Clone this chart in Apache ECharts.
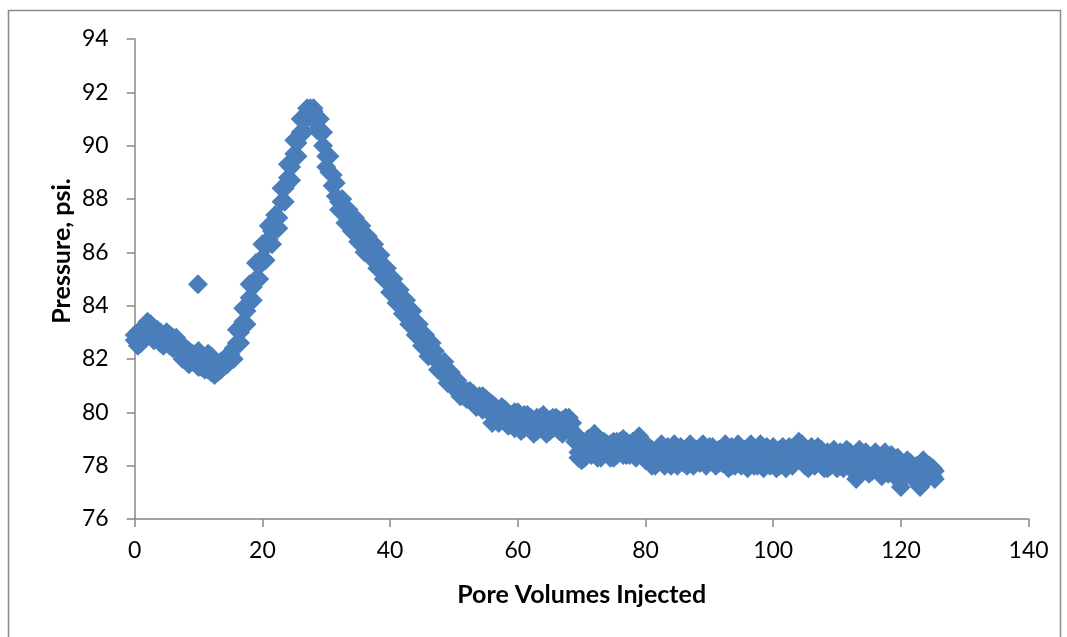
<!DOCTYPE html>
<html>
<head>
<meta charset="utf-8">
<script src="https://cdn.jsdelivr.net/npm/echarts@6/dist/echarts.min.js"></script>
<style>
html,body{margin:0;padding:0;background:#fff;}
#chart{width:1067px;height:637px;}
</style>
</head>
<body>
<div id="chart"></div>
<script>
// Pore volumes injected (x) and two pressure readings per step, psi (y)
const poreVolumes = [
0,0.5,1,1.5,2,2.5,3,3.5,4,4.5,5,5.5,6,6.5,7,7.5,8,8.5,9,9.5,9.9,10,10.5,11,11.5,12,12.5,13,13.5,14,14.5,15,15.5,16,16.5,17,17.5,18,18.5,19,19.5,
20,20.5,21,21.5,22,22.5,23,23.5,24,24.5,25,25.5,26,26.5,27,27.5,28,28.5,29,29.5,30,30.5,31,31.5,32,32.5,33,33.5,34,34.5,35,35.5,36,36.5,37,37.5,38,38.5,39,39.5,
40,40.5,41,41.5,42,42.5,43,43.5,44,44.5,45,45.5,46,46.5,47,47.5,48,48.5,49,49.5,50,50.5,51,51.5,52,52.5,53,53.5,54,54.5,55,55.5,56,56.5,57,57.5,58,58.5,59,59.5,
60,60.5,61,61.5,62,62.5,63,63.5,64,64.5,65,65.5,66,66.5,67,67.5,68,68.5,69,69.5,70,70.5,71,71.5,72,72.5,73,73.5,74,74.5,75,75.5,76,76.5,77,77.5,78,78.5,79,79.5,
80,80.5,81,81.5,82,82.5,83,83.5,84,84.5,85,85.5,86,86.5,87,87.5,88,88.5,89,89.5,90,90.5,91,91.5,92,92.5,93,93.5,94,94.5,95,95.5,96,96.5,97,97.5,98,98.5,99,99.5,
100,100.5,101,101.5,102,102.5,103,103.5,104,104.5,105,105.5,106,106.5,107,107.5,108,108.5,109,109.5,110,110.5,111,111.5,112,112.5,113,113.5,114,114.5,115,115.5,116,116.5,117,117.5,118,118.5,119,119.5,
120,120.5,121,121.5,122,122.5,123,123.5,124,124.5,125,125.3
];
const pressureA = [
82.7,83.0,82.6,83.1,83.4,83.0,82.9,83.1,82.6,82.9,83.0,82.5,82.8,82.6,82.3,82.0,82.4,81.8,82.2,81.9,84.8,82.3,81.7,82.0,81.6,82.1,81.4,81.7,81.6,81.9,81.8,82.2,82.4,82.6,83.0,83.4,83.8,84.3,84.7,85.0,85.5,
85.8,86.2,86.5,86.8,86.9,87.3,87.9,88.4,88.8,89.2,89.7,90.1,90.5,90.9,91.2,91.4,91.3,91.0,90.5,90.0,89.6,89.0,88.5,88.1,87.9,87.6,87.4,87.2,87.1,86.9,86.8,86.6,86.4,86.3,86.1,85.9,85.8,85.6,85.4,85.1,
84.9,84.7,84.5,84.3,84.1,83.9,83.7,83.4,83.2,83.0,82.8,82.6,82.5,82.3,82.0,81.9,81.8,81.6,81.4,81.3,81.2,81.0,80.9,80.8,80.8,80.6,80.7,80.5,80.4,80.6,80.2,80.4,79.6,80.2,80.0,79.7,80.1,79.5,79.9,80.0,
79.6,79.8,79.4,79.9,79.5,79.7,79.3,79.8,79.5,79.6,79.3,79.8,79.5,79.3,79.7,79.4,79.8,79.3,78.9,78.5,78.2,78.6,79.0,78.4,79.2,78.7,78.3,78.9,78.5,78.8,78.3,78.9,78.6,79.0,78.4,78.8,78.5,78.7,79.1,78.4,
78.2,78.7,78.0,78.5,78.6,78.2,78.5,78.3,78.6,78.2,78.5,78.4,78.1,78.6,78.3,78.5,78.2,78.6,78.3,78.4,78.7,78.2,78.5,78.1,78.6,78.3,78.5,78.0,78.4,78.2,78.6,78.1,78.4,78.3,78.6,78.0,78.3,78.5,78.1,78.4,
78.2,78.5,78.0,78.3,78.5,78.1,78.4,78.6,78.9,78.3,78.0,78.4,78.2,78.5,78.7,78.1,78.3,77.9,78.4,78.1,78.3,78.0,78.4,78.2,78.0,78.3,77.5,77.8,78.4,78.0,77.7,78.2,77.9,78.3,77.6,78.0,78.2,77.8,78.1,77.5,
77.2,78.0,78.2,77.7,77.9,77.4,77.2,77.8,78.0,77.6,77.9,77.5
];
const pressureB = [
82.9,82.5,83.1,82.8,83.0,83.3,82.7,82.8,83.0,82.5,82.6,82.9,82.4,82.8,82.6,82.4,82.1,82.3,81.9,82.2,81.8,81.7,82.1,81.6,82.2,81.5,81.8,81.5,81.9,82.0,82.1,82.0,82.0,83.1,82.6,83.9,83.3,84.8,84.2,85.6,85.0,
86.3,85.7,87.0,86.3,87.4,86.9,88.4,87.9,89.3,88.7,90.2,89.6,91.0,90.5,91.4,91.1,91.4,90.6,91.0,90.5,89.2,89.6,88.9,88.6,87.6,88.0,87.1,87.6,86.8,87.3,86.4,87.0,86.0,86.6,85.8,86.3,85.4,85.9,85.0,85.4,
84.5,85.0,84.1,84.6,83.7,84.2,83.3,83.8,82.9,83.3,82.5,82.9,82.1,82.6,82.3,81.6,81.5,81.9,81.1,81.5,80.9,81.2,80.6,80.6,80.5,80.8,80.4,80.2,80.6,80.1,80.5,80.0,80.3,79.8,79.6,80.2,79.7,79.9,79.6,79.4,
80.0,79.3,79.9,79.5,79.8,79.2,79.8,79.4,79.9,79.2,79.7,79.4,79.8,79.7,79.2,79.8,79.3,79.6,79.2,78.3,78.6,78.3,78.5,78.9,78.5,78.3,78.9,78.5,78.8,78.3,78.9,78.4,78.9,78.4,78.9,78.4,78.9,78.3,78.6,78.9,
78.8,78.3,78.6,78.0,78.2,78.8,78.0,78.7,78.0,78.8,78.0,78.7,78.6,78.0,78.8,78.0,78.6,78.1,78.8,78.0,78.2,78.7,78.0,78.6,78.1,78.8,77.9,78.7,78.0,78.8,78.0,78.6,77.9,78.8,78.0,78.5,78.8,77.9,78.7,78.0,
78.7,77.9,78.6,78.7,77.9,78.7,78.0,78.3,78.5,78.8,78.6,77.9,78.7,78.0,78.3,78.6,77.9,78.5,78.0,78.6,77.9,78.5,77.9,78.6,78.5,77.8,78.3,78.6,77.9,78.5,78.3,77.8,78.5,77.8,78.2,78.5,77.7,78.4,77.6,78.3,
77.9,77.6,77.7,78.1,77.5,78.0,77.8,78.2,77.5,78.0,77.6,77.8
];
const xTicks = [0,20,40,60,80,100,120,140];
const yTicks = [76,78,80,82,84,86,88,90,92,94];
const xTitle = 'Pore Volumes Injected';
const yTitle = 'Pressure, psi.';

const points = [];
poreVolumes.forEach((x, i) => { points.push([x, pressureA[i]]); points.push([x, pressureB[i]]); });
const axisGray = '#878787';
const font = 'Lato, "Open Sans", sans-serif';

const chart = echarts.init(document.getElementById('chart'), null, {renderer: 'canvas'});
chart.setOption({
  animation: false,
  backgroundColor: '#ffffff',
  grid: {left: 134.7, right: 38.4, top: 39, bottom: 118, containLabel: false},
  xAxis: {
    type: 'value', min: xTicks[0], max: xTicks[xTicks.length - 1], interval: 20,
    splitLine: {show: false},
    axisLine: {show: true, onZero: false, lineStyle: {color: axisGray, width: 1.5}},
    axisTick: {show: true, inside: false, length: 8, lineStyle: {color: axisGray, width: 1.5}},
    axisLabel: {margin: 20, color: '#000', fontSize: 23, fontFamily: font},
    name: xTitle, nameLocation: 'middle', nameGap: 63,
    nameTextStyle: {color: '#000', fontSize: 25, fontWeight: 'bold', fontFamily: font}
  },
  yAxis: {
    type: 'value', min: yTicks[0], max: yTicks[yTicks.length - 1], interval: 2,
    splitLine: {show: false},
    axisLine: {show: true, onZero: false, lineStyle: {color: axisGray, width: 1.5}},
    axisTick: {show: true, inside: false, length: 8, lineStyle: {color: axisGray, width: 1.5}},
    axisLabel: {margin: 26, color: '#000', fontSize: 23, fontFamily: font}
  },
  graphic: [{
    type: 'rect', silent: true, z: -1,
    shape: {x: 8.5, y: 10.5, width: 1052, height: 660},
    style: {fill: 'none', stroke: '#898989', lineWidth: 1.5}
  }, {
    type: 'text', silent: true,
    x: 62, y: 251, rotation: Math.PI / 2,
    style: {text: yTitle, fill: '#000', font: 'bold 25px ' + font, align: 'center', verticalAlign: 'middle'}
  }],
  series: [{
    type: 'scatter',
    data: points,
    symbol: 'diamond',
    symbolSize: 20,
    itemStyle: {color: '#4A7EBB', opacity: 1},
    emphasis: {disabled: true}
  }]
});
</script>
</body>
</html>
